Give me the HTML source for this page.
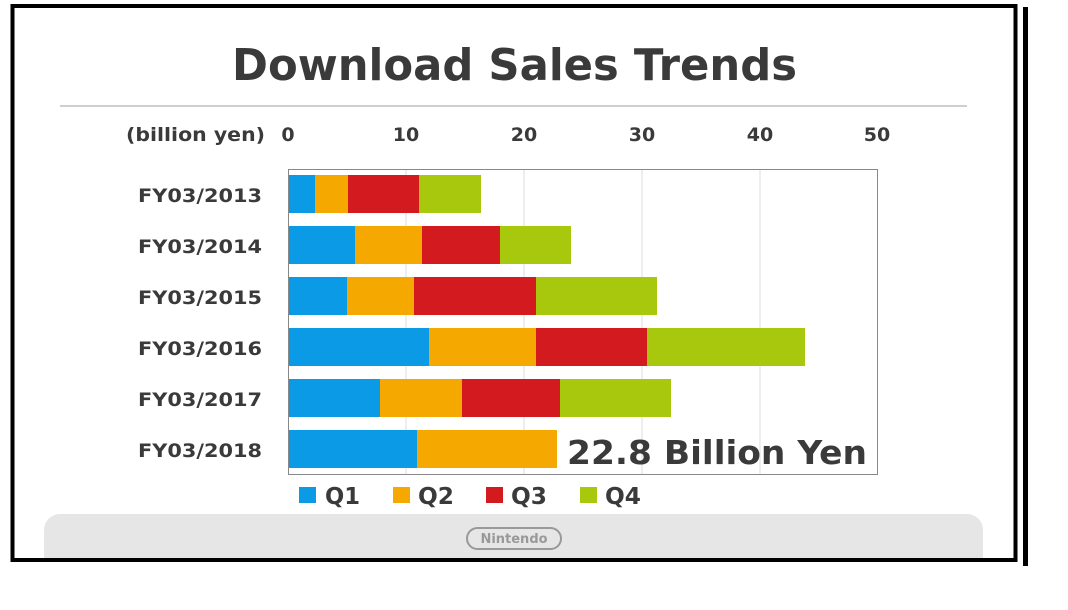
<!DOCTYPE html>
<html><head><meta charset="utf-8"><style>
body{margin:0;background:#fff;}
svg text{font-family:"DejaVu Sans","Liberation Sans",sans-serif;font-weight:bold;fill:#3a3a3a;}
</style></head><body>
<svg width="1068" height="605" viewBox="0 0 1068 605" xmlns="http://www.w3.org/2000/svg">
<rect width="1068" height="605" fill="#fff"/>
<rect x="44" y="514" width="939" height="60" rx="16" fill="#e6e6e6"/>
<rect x="0" y="559" width="1068" height="46" fill="#fff"/>
<rect x="12.5" y="6" width="1003" height="554" fill="none" stroke="#000" stroke-width="4"/>
<rect x="1023" y="7" width="5" height="559" fill="#000"/>
<text x="232" y="80" font-size="44" textLength="565" lengthAdjust="spacingAndGlyphs">Download Sales Trends</text>
<rect x="60" y="105" width="907" height="2" fill="#cfcfcf"/>
<g font-size="19" text-anchor="middle">
<text x="126" y="141" text-anchor="start" textLength="139" lengthAdjust="spacingAndGlyphs">(billion yen)</text>
<text x="288" y="141">0</text><text x="406" y="141">10</text><text x="524" y="141">20</text>
<text x="642" y="141">30</text><text x="760" y="141">40</text><text x="877" y="141">50</text>
</g>
<g stroke="#dcdcdc" stroke-width="1">
<line x1="406" y1="169" x2="406" y2="474"/><line x1="524" y1="169" x2="524" y2="474"/>
<line x1="642" y1="169" x2="642" y2="474"/><line x1="760" y1="169" x2="760" y2="474"/>
</g>
<rect x="288.5" y="169.5" width="589" height="305" fill="none" stroke="#888" stroke-width="1"/>
<g font-size="19">
<text x="138" y="202" textLength="124" lengthAdjust="spacingAndGlyphs">FY03/2013</text><text x="138" y="253" textLength="124" lengthAdjust="spacingAndGlyphs">FY03/2014</text>
<text x="138" y="304" textLength="124" lengthAdjust="spacingAndGlyphs">FY03/2015</text><text x="138" y="355" textLength="124" lengthAdjust="spacingAndGlyphs">FY03/2016</text>
<text x="138" y="406" textLength="124" lengthAdjust="spacingAndGlyphs">FY03/2017</text><text x="138" y="457" textLength="124" lengthAdjust="spacingAndGlyphs">FY03/2018</text>
</g>
<g>
<rect x="289" y="175" width="26" height="38" fill="#0b9be6"/><rect x="315" y="175" width="33" height="38" fill="#f5a800"/><rect x="348" y="175" width="71" height="38" fill="#d21a1f"/><rect x="419" y="175" width="62" height="38" fill="#a8c80e"/>
<rect x="289" y="226" width="66" height="38" fill="#0b9be6"/><rect x="355" y="226" width="67" height="38" fill="#f5a800"/><rect x="422" y="226" width="78" height="38" fill="#d21a1f"/><rect x="500" y="226" width="71" height="38" fill="#a8c80e"/>
<rect x="289" y="277" width="58" height="38" fill="#0b9be6"/><rect x="347" y="277" width="67" height="38" fill="#f5a800"/><rect x="414" y="277" width="122" height="38" fill="#d21a1f"/><rect x="536" y="277" width="121" height="38" fill="#a8c80e"/>
<rect x="289" y="328" width="140" height="38" fill="#0b9be6"/><rect x="429" y="328" width="107" height="38" fill="#f5a800"/><rect x="536" y="328" width="111" height="38" fill="#d21a1f"/><rect x="647" y="328" width="158" height="38" fill="#a8c80e"/>
<rect x="289" y="379" width="91" height="38" fill="#0b9be6"/><rect x="380" y="379" width="82" height="38" fill="#f5a800"/><rect x="462" y="379" width="98" height="38" fill="#d21a1f"/><rect x="560" y="379" width="111" height="38" fill="#a8c80e"/>
<rect x="289" y="430" width="128" height="38" fill="#0b9be6"/><rect x="417" y="430" width="140" height="38" fill="#f5a800"/>
</g>
<text x="567" y="464" font-size="33" textLength="300" lengthAdjust="spacingAndGlyphs">22.8 Billion Yen</text>
<rect x="299" y="487" width="17" height="16" fill="#0b9be6"/><text x="325" y="504" font-size="23" textLength="35" lengthAdjust="spacingAndGlyphs">Q1</text>
<rect x="393" y="487" width="17" height="16" fill="#f5a800"/><text x="418" y="504" font-size="23" textLength="36" lengthAdjust="spacingAndGlyphs">Q2</text>
<rect x="486" y="487" width="17" height="16" fill="#d21a1f"/><text x="511" y="504" font-size="23" textLength="36" lengthAdjust="spacingAndGlyphs">Q3</text>
<rect x="580" y="487" width="17" height="16" fill="#a8c80e"/><text x="605" y="504" font-size="23" textLength="36" lengthAdjust="spacingAndGlyphs">Q4</text>
<rect x="467" y="528" width="94" height="21" rx="10.5" fill="none" stroke="#999" stroke-width="2"/>
<text x="514" y="543" font-size="13" text-anchor="middle" style="fill:#999">Nintendo</text>
</svg>
</body></html>
